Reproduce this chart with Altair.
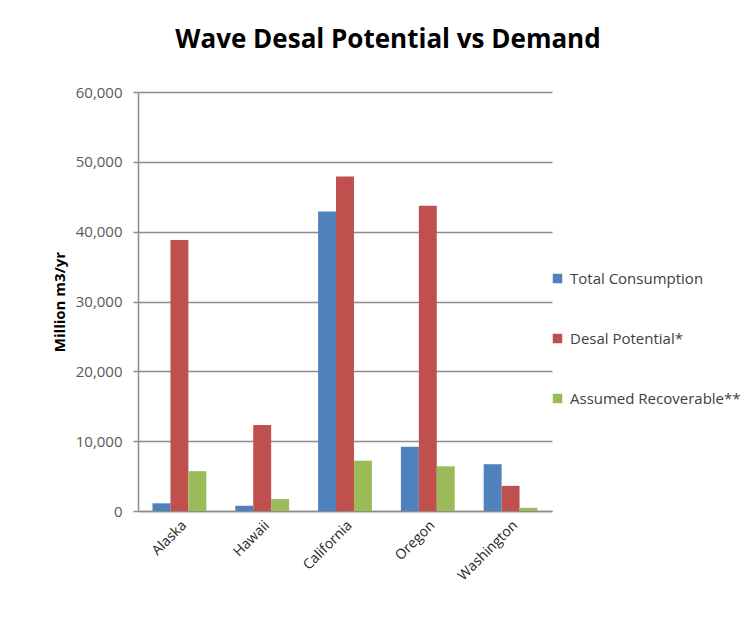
import altair as alt
import pandas as pd

states = ["Alaska", "Hawaii", "California", "Oregon", "Washington"]
series = ["Total Consumption", "Desal Potential*", "Assumed Recoverable**"]
total_consumption = [1100, 750, 42900, 9200, 6700]
desal_potential = [38800, 12300, 47900, 43700, 3600]
assumed_recoverable = [5700, 1700, 7200, 6400, 450]
colors = ["#4F81BD", "#C0504D", "#9BBB59"]
y_ticks = [0, 10000, 20000, 30000, 40000, 50000, 60000]

rows = []
for name, vals in zip(series, [total_consumption, desal_potential, assumed_recoverable]):
    for s, v in zip(states, vals):
        rows.append({"State": s, "Series": name, "Value": v})
df = pd.DataFrame(rows)

FONT = "Open Sans"

chart = alt.Chart(df).mark_bar().encode(
    x=alt.X(
        "State:N",
        sort=states,
        scale=alt.Scale(paddingInner=0.35, paddingOuter=0.175),
        axis=alt.Axis(
            title=None, labelAngle=-45, ticks=False, labelFontSize=14,
            labelColor="#262626", labelPadding=7, domainColor="#8c8c8c",
            domainWidth=1.5, labelFont=FONT,
        ),
    ),
    xOffset=alt.XOffset("Series:N", sort=series,
                        scale=alt.Scale(paddingInner=0, paddingOuter=0)),
    y=alt.Y(
        "Value:Q",
        scale=alt.Scale(domain=[0, 60000], nice=False),
        axis=alt.Axis(
            title="Million m3/yr", values=y_ticks, format=",.0f", tickSize=5,
            tickColor="#8c8c8c", tickWidth=1.5, labelFontSize=15, labelFont=FONT,
            labelColor="#595959", labelPadding=11, domainColor="#8c8c8c",
            domainWidth=1.5, gridColor="#8c8c8c", gridWidth=1.5,
            titleFont=FONT, titleFontSize=15, titleFontWeight="bold",
            titleColor="#000000", titlePadding=8,
        ),
    ),
    color=alt.Color(
        "Series:N",
        sort=series,
        scale=alt.Scale(domain=series, range=colors),
        legend=alt.Legend(
            title=None, orient="none", legendX=412, legendY=179,
            symbolType="square", symbolSize=90, symbolStrokeWidth=0,
            rowPadding=44, labelFontSize=15, labelFont=FONT,
            labelColor="#404040", labelOffset=5, labelLimit=300,
        ),
    ),
).properties(
    width=414,
    height=419,
    title=alt.TitleParams(
        "Wave Desal Potential vs Demand", font=FONT, fontSize=26,
        fontWeight="bold", color="#000000", anchor="middle", dx=43, offset=32,
    ),
    padding={"left": 130, "top": 84, "right": 196, "bottom": 107},
    autosize=alt.AutoSizeParams(type="none"),
).configure_view(stroke=None)

chart.save("out.html", embed_options={"renderer": "svg", "actions": False})
